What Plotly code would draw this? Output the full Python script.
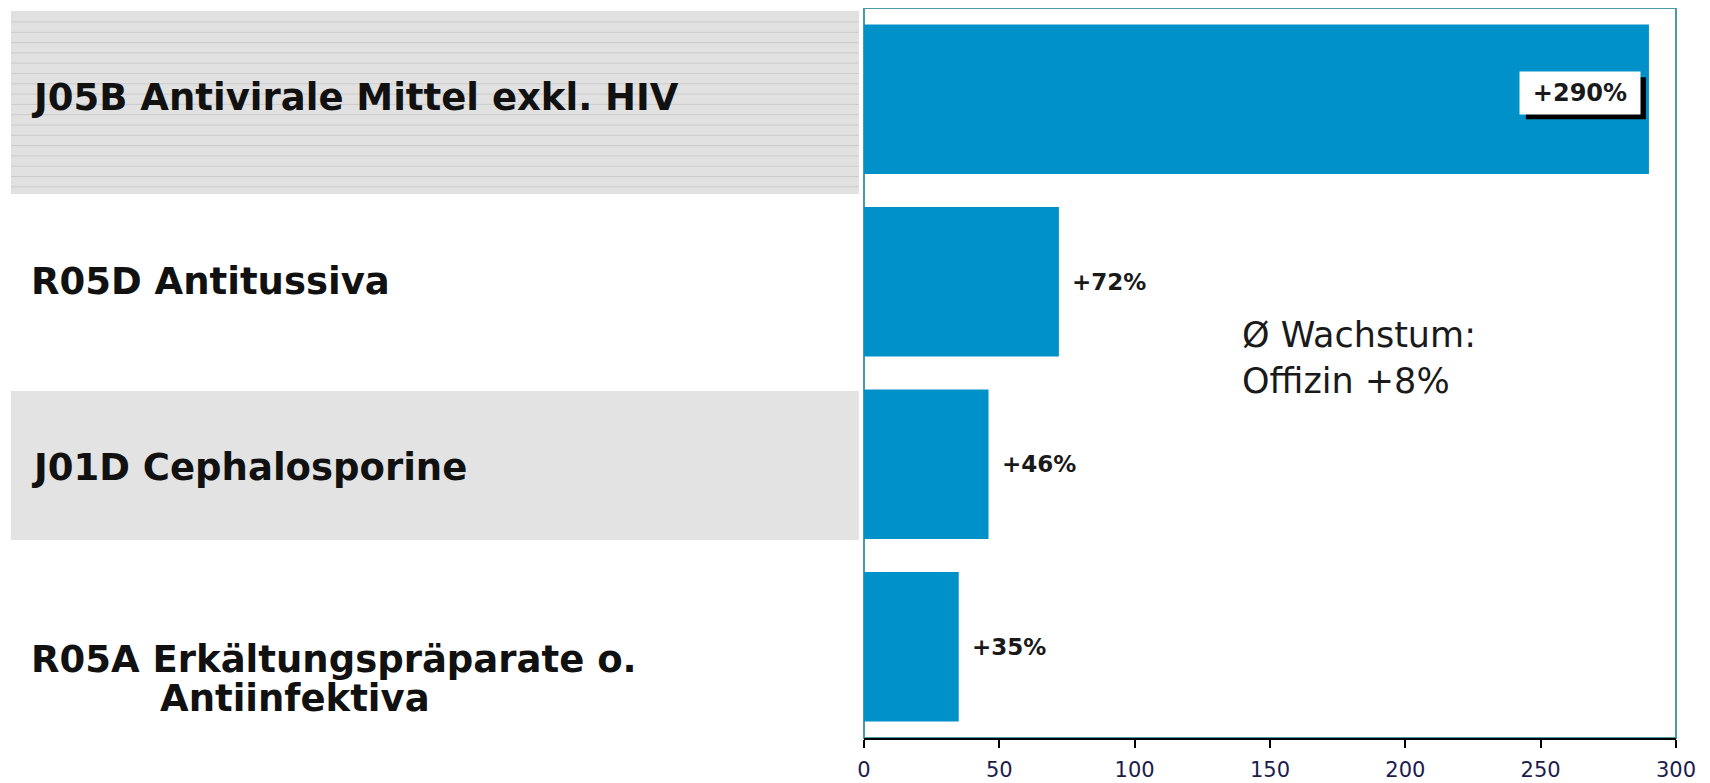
import plotly.graph_objects as go

# ---- data ----
codes = ["J05B", "R05D", "J01D", "R05A"]
label_lines = [
    ["J05B Antivirale Mittel exkl. HIV"],
    ["R05D Antitussiva"],
    ["J01D Cephalosporine"],
    ["R05A Erkältungspräparate o.", "Antiinfektiva"],
]
growth = [290, 72, 46, 35]
growth_text = ["+290%", "+72%", "+46%", "+35%"]
x_ticks = [0, 50, 100, 150, 200, 250, 300]
note_lines = ["Ø Wachstum:", "Offizin +8%"]

BAR = "#0091C8"
FRAME = "#4A9BA6"
LABEL_FONT = dict(family="DejaVu Sans", size=37, color="#111111", weight="bold")

# page layout (the html body adds an 8px offset)
OFF = 8
W, H = 1710 - OFF, 783 - OFF
PL, PR, PT, PB = 864, 1676, 8, 738          # plot box in page pixels
ML, MT = PL - OFF, PT - OFF
MR = W - (PR - OFF)
MB = H - (PB - OFF)
PW, PH = PR - PL, PB - PT


def px(xp):
    return (xp - PL) / PW


def py(yp):
    return 1 - (yp - PT) / PH


fig = go.Figure()
fig.add_trace(go.Bar(
    y=codes, x=growth, orientation="h",
    marker=dict(color=BAR, line=dict(width=0)),
    width=0.82, hoverinfo="skip", showlegend=False,
))

shapes = []
# grey label backgrounds (rows 1 and 3)
shapes.append(dict(type="rect", xref="paper", yref="paper", x0=px(11), x1=px(859),
                   y0=py(194), y1=py(11), fillcolor="#E1E1E1", line=dict(width=0), layer="below"))
shapes.append(dict(type="rect", xref="paper", yref="paper", x0=px(11), x1=px(859),
                   y0=py(540), y1=py(391), fillcolor="#E3E3E3", line=dict(width=0), layer="below"))
# horizontal stripe texture on first box
y_px = 22.0
while y_px < 193:
    shapes.append(dict(type="line", xref="paper", yref="paper", x0=px(11), x1=px(859),
                       y0=py(y_px), y1=py(y_px), line=dict(color="#CBCBCB", width=1), layer="below"))
    y_px += 10.3
# plot frame
shapes.append(dict(type="rect", xref="paper", yref="paper", x0=0, x1=1, y0=0, y1=1,
                   line=dict(color=FRAME, width=2), fillcolor="rgba(0,0,0,0)", layer="below"))

annotations = []
# category labels
label_x = [px(29), px(158)]
label_shift = {"J05B": [2], "R05D": [0], "J01D": [-3], "R05A": [-13, -52]}
for code, lines in zip(codes, label_lines):
    for i, line in enumerate(lines):
        annotations.append(dict(
            xref="paper", yref="y", x=label_x[i], y=code, text=line,
            xanchor="left", yanchor="middle", showarrow=False,
            yshift=label_shift[code][i], font=LABEL_FONT,
        ))

# value labels
for idx, (code, val, txt) in enumerate(zip(codes, growth, growth_text)):
    if val >= 200:
        # drop shadow behind the white label box
        shapes.append(dict(
            type="rect", xref="x", yref="y", xsizemode="pixel", ysizemode="pixel",
            xanchor=val, yanchor=idx, x0=-8 - 120 + 5, x1=-8 + 5,
            y0=6 - 5 - 21, y1=6 - 5 + 21,
            fillcolor="#000000", line=dict(width=0), layer="above",
        ))
        annotations.append(dict(
            x=val, y=code, text=txt, xanchor="right", yanchor="middle", showarrow=False,
            xshift=-8, yshift=6, bgcolor="#FFFFFF", borderpad=7, width=106,
            font=dict(family="DejaVu Sans", size=24, color="#1a1a1a", weight="bold"),
        ))
    else:
        annotations.append(dict(
            x=val, y=code, text=txt, xanchor="left", yanchor="middle", showarrow=False,
            xshift=11, yshift=0,
            font=dict(family="DejaVu Sans", size=23, color="#1a1a1a", weight="bold"),
        ))

# average growth note
annotations.append(dict(
    xref="paper", yref="paper", x=px(1240), y=py(358), text="<br>".join(note_lines),
    xanchor="left", yanchor="middle", align="left", showarrow=False,
    font=dict(family="DejaVu Sans", size=35, color="#1a1a1a"),
))

fig.update_layout(
    width=W, height=H,
    margin=dict(l=ML, r=MR, t=MT, b=MB, pad=0),
    paper_bgcolor="white", plot_bgcolor="white",
    bargap=0.18,
    xaxis=dict(range=[0, 300], tickvals=x_ticks, ticks="outside", ticklen=8, tickwidth=2,
               tickcolor="#000000", showline=True, linecolor="#000000", linewidth=2,
               showgrid=False, zeroline=False, ticklabelstandoff=4, automargin=False,
               tickfont=dict(family="DejaVu Sans", size=21, color="#1C1C4C")),
    yaxis=dict(categoryorder="array", categoryarray=codes, autorange="reversed",
               showticklabels=False, showgrid=False, zeroline=False, showline=False,
               ticks="", automargin=False),
    shapes=shapes, annotations=annotations,
)

fig.write_html("out.html")
